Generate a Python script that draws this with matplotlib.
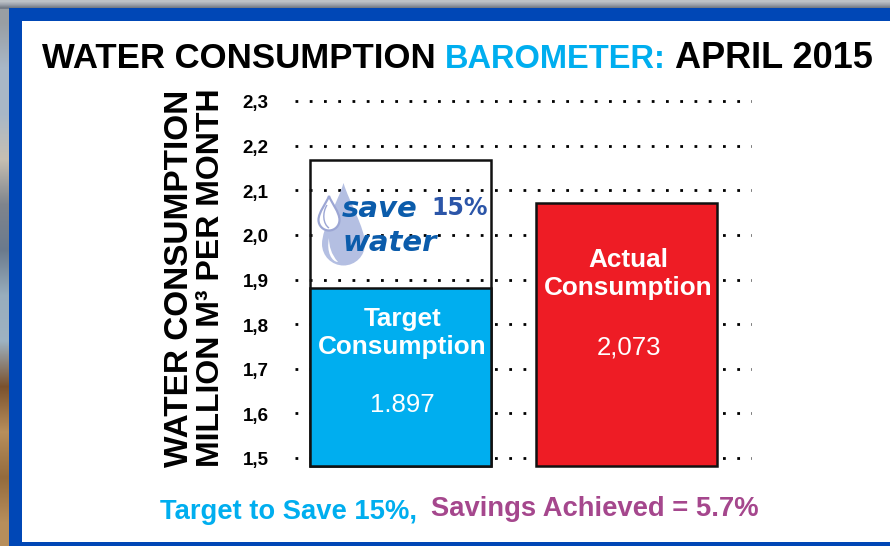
import matplotlib
matplotlib.use("Agg")
import matplotlib.pyplot as plt
from matplotlib.patches import Rectangle, PathPatch
from matplotlib.path import Path
from matplotlib.transforms import ScaledTranslation
import numpy as np

# data
categories = ["Target\nConsumption", "Actual\nConsumption"]
value_labels = ["1.897", "2,073"]
bar_tops = [1.88, 2.071]
target_box_top = 2.168
bar_floor = 1.482
y_ticks = [1.5, 1.6, 1.7, 1.8, 1.9, 2.0, 2.1, 2.2, 2.3]
y_tick_labels = ["1,5", "1,6", "1,7", "1,8", "1,9", "2,0", "2,1", "2,2", "2,3"]

BLUE = "#00AEEF"
RED = "#EE1C25"
FRAME = "#0047B6"
PURPLE = "#A5478D"
W, H = 890, 546

plt.rcParams["font.family"] = ["Liberation Sans", "DejaVu Sans"]

fig = plt.figure(figsize=(W / 100, H / 100), dpi=100)


def px_axes(left, top, right, bottom):
    return fig.add_axes([left / W, 1 - bottom / H, (right - left) / W, (bottom - top) / H])


# -----------------------------
# Background and frame
# -----------------------------
bg = fig.add_axes([0, 0, 1, 1], zorder=0)
bg.axis("off")

left_strip = np.array([[0.60, 0.62, 0.64], [0.66, 0.72, 0.78], [0.66, 0.72, 0.78], [0.78, 0.75, 0.70],
                       [0.50, 0.52, 0.55], [0.42, 0.48, 0.55], [0.60, 0.68, 0.74], [0.62, 0.70, 0.76],
                       [0.48, 0.32, 0.18], [0.72, 0.56, 0.36], [0.58, 0.42, 0.24], [0.72, 0.56, 0.36]])
top_strip = np.array([[[0.74, 0.76, 0.78]], [[0.62, 0.64, 0.68]], [[0.46, 0.49, 0.53]]])
bg.imshow(left_strip[:, None, :], extent=(0, 10, H, 0), aspect="auto", interpolation="bilinear")
bg.imshow(top_strip, extent=(0, W, 9, 0), aspect="auto", interpolation="bilinear")
bg.set_xlim(0, W)
bg.set_ylim(H, 0)
bg.add_patch(Rectangle((9, 8), W, H, color=FRAME, lw=0))
bg.add_patch(Rectangle((22, 21), W, 521, color="white", lw=0))

# -----------------------------
# Chart
# -----------------------------
y_per_px = 0.8 / 357
ax = px_axes(295, 90, 752, 470)
ax.set_zorder(1)
ax.patch.set_alpha(0)
ax.set_ylim(1.5 - 12 * y_per_px, 2.3 + 11 * y_per_px)
ax.set_xlim(-105.5 / 226, 351.5 / 226)
for s in ax.spines.values():
    s.set_visible(False)

for t in y_ticks:
    ax.plot([-105.5 / 226, 351.5 / 226], [t, t], color="black", lw=2,
            linestyle=(0, (1, 4.13)), zorder=1, dash_capstyle="butt")

positions = [0, 1]
bar_h = [v - bar_floor for v in bar_tops]
ax.bar(positions, bar_h, bottom=bar_floor, width=0.8, color=[BLUE, RED],
       edgecolor="#111111", linewidth=1.8, zorder=3)
ax.bar(positions[0], target_box_top - bar_floor, bottom=bar_floor, width=0.8, fill=False,
       edgecolor="#111111", linewidth=1.8, zorder=2)

ax.set_xticks([])
ax.set_yticks(y_ticks)
ax.set_yticklabels(y_tick_labels, fontsize=13.5, fontweight="bold")
ax.tick_params(axis="y", length=0, pad=19)
# labels sit slightly under their dotted line
nudge = ScaledTranslation(0, -0.7 / 72, fig.dpi_scale_trans)
for lab in ax.get_yticklabels():
    lab.set_transform(lab.get_transform() + nudge)

label_y = [1.78, 1.912]
value_y = [1.619, 1.747]
label_x = [0.008, 1.009]
for i in positions:
    ax.text(label_x[i], label_y[i], categories[i], color="white", fontsize=18.8, fontweight="bold",
            ha="center", va="center", linespacing=1.22, zorder=4)
    ax.text(label_x[i], value_y[i], value_labels[i], color="white", fontsize=18.5, ha="center", va="center", zorder=4)

# -----------------------------
# Overlay text in pixel coords
# -----------------------------
top = fig.add_axes([0, 0, 1, 1], zorder=2)
top.set_xlim(0, W)
top.set_ylim(H, 0)
top.axis("off")


def drop(cx, cy, r, tip, **kw):
    k = 0.5523 * r
    verts = [(cx, tip), (cx + 0.25 * r, tip + 0.3 * (cy - tip)), (cx + r, cy - 0.75 * r), (cx + r, cy),
             (cx + r, cy + k), (cx + k, cy + r), (cx, cy + r),
             (cx - k, cy + r), (cx - r, cy + k), (cx - r, cy),
             (cx - r, cy - 0.75 * r), (cx - 0.25 * r, tip + 0.3 * (cy - tip)), (cx, tip), (cx, tip)]
    codes = [Path.MOVETO] + [Path.CURVE4] * 12 + [Path.CLOSEPOLY]
    top.add_patch(PathPatch(Path(verts, codes), **kw))


drop(343.5, 244, 21.5, 183, facecolor="#B4BFE2", edgecolor="none")
drop(329, 220, 10.5, 196, facecolor="white", edgecolor="#9CA6D4", lw=1.6)
# highlights inside the drops
top.add_patch(PathPatch(Path([(329, 238), (326, 252), (332, 262), (338, 262), (331, 254), (329, 246), (329, 238)],
                             [Path.MOVETO, Path.CURVE4, Path.CURVE4, Path.CURVE4, Path.CURVE4, Path.CURVE4, Path.CURVE4]),
                        facecolor="white", edgecolor="none"))
top.add_patch(PathPatch(Path([(327, 205), (322, 213), (323, 224), (329, 228)],
                             [Path.MOVETO, Path.CURVE4, Path.CURVE4, Path.CURVE4]),
                        facecolor="none", edgecolor="#9CA6D4", lw=1))

top.text(342, 209, "save", color="#0B5CAB", fontsize=21, fontweight="bold", family="DejaVu Sans",
         style="italic", va="center")
top.text(431, 208, "15%", color="#2B55A8", fontsize=17, fontweight="bold", family="DejaVu Sans", va="center")
top.text(342, 243, "water", color="#0B5CAB", fontsize=21, fontweight="bold", family="DejaVu Sans",
         style="italic", va="center")

title_y = 59
top.text(42, title_y, "WATER CONSUMPTION", fontsize=25, fontweight="bold", color="black", va="center")
top.text(445, title_y, "BAROMETER:", fontsize=23.5, fontweight="bold", color=BLUE, va="center")
top.text(675, title_y, "APRIL 2015", fontsize=26, fontweight="bold", color="black", va="center")

top.text(179, 278, "WATER CONSUMPTION", fontsize=24, fontweight="bold", rotation=90, ha="center", va="center")
top.text(211, 278, "MILLION M\u00b3 PER MONTH", fontsize=23, fontweight="bold", rotation=90, ha="center", va="center")

top.text(160, 512, "Target to Save 15%,", fontsize=19.7, fontweight="bold", color=BLUE, va="center")
top.text(431, 509, "Savings Achieved = 5.7%", fontsize=19.7, fontweight="bold", color=PURPLE, va="center")

fig.savefig("out.png", dpi=100)
